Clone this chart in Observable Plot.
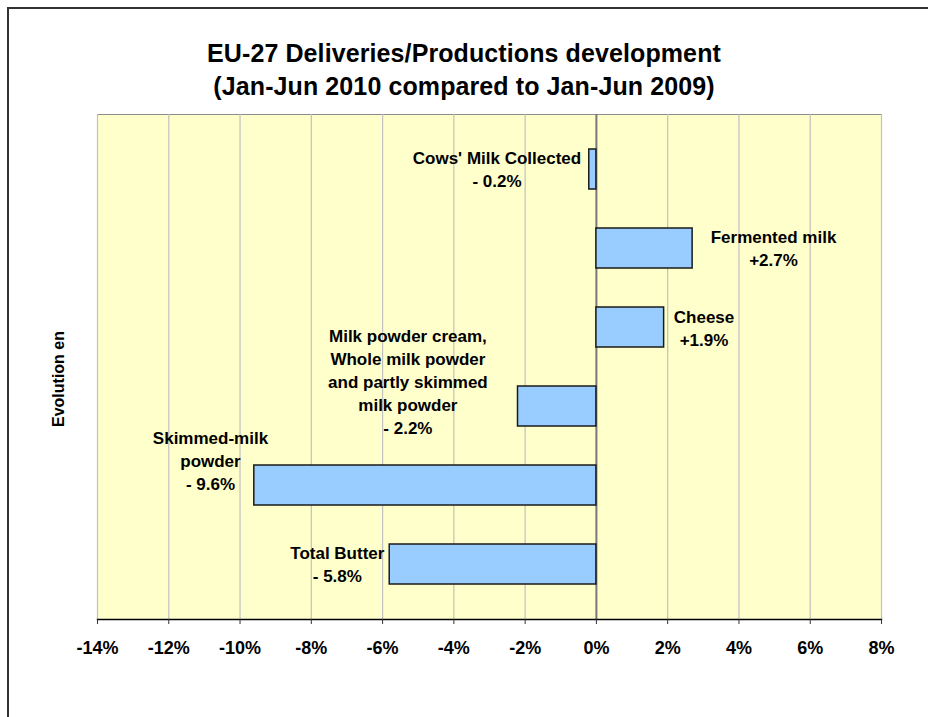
<!DOCTYPE html>
<html>
<head>
<meta charset="utf-8">
<script src="https://cdn.jsdelivr.net/npm/d3@7"></script>
<script src="https://cdn.jsdelivr.net/npm/@observablehq/plot@0.6"></script>
<style>
  html, body { margin: 0; padding: 0; background: #fff; overflow: hidden; }
  #wrap { position: relative; width: 928px; height: 717px; overflow: hidden; background: #fff; }
  #bt { position: absolute; left: 7px; top: 7px; width: 930px; height: 2px; background: #333; }
  #bl { position: absolute; left: 7px; top: 7px; width: 2px; height: 720px; background: #333; }
  #title { position: absolute; left: 0; top: 37px; width: 928px; text-align: center;
           font-family: "Liberation Sans", Arial, sans-serif; font-weight: bold; font-size: 25px;
           line-height: 33px; letter-spacing: 0.1px; color: #000; }
  #chart { position: absolute; left: 0; top: 0; }
  #chart svg { display: block; background: transparent !important; }
</style>
</head>
<body>
<div id="wrap">
  <div id="bt"></div>
  <div id="bl"></div>
  <div id="title">EU-27 Deliveries/Productions development<br>(Jan-Jun 2010 compared to Jan-Jun 2009)</div>
  <div id="chart"></div>
</div>
<script>
// ---- data ----
const categories = [
  "Cows' Milk Collected",
  "Fermented milk",
  "Cheese",
  "Milk powder cream, Whole milk powder and partly skimmed milk powder",
  "Skimmed-milk powder",
  "Total Butter"
];
const values = [-0.2, 2.7, 1.9, -2.2, -9.6, -5.8];
const labelNames = [
  ["Cows' Milk Collected"],
  ["Fermented milk"],
  ["Cheese"],
  ["Milk powder cream,", "Whole milk powder", "and partly skimmed", "milk powder"],
  ["Skimmed-milk", "powder"],
  ["Total Butter"]
];
const xTicks = [-14, -12, -10, -8, -6, -4, -2, 0, 2, 4, 6, 8];
const yAxisTitle = "Evolution en";

// ---- build ----
const fmt = v => (v < 0 ? "- " + Math.abs(v).toFixed(1) : "+" + v.toFixed(1)) + "%";
const rows = categories.map((c, i) => ({
  cat: c, value: values[i],
  label: [...labelNames[i], fmt(values[i])].join("\n")
}));

// label placement (annotation layout: x in data units, vertical shift in pixels)
const labelPlace = [
  {x: -2.79, dy: -1},
  {x: 4.97, dy: -1},
  {x: 3.02, dy: 0},
  {x: -5.29, dy: -26},
  {x: -10.83, dy: -26},
  {x: -7.27, dy: -1}
];

const font = "'Liberation Sans', Arial, sans-serif";

const labelMarks = rows.map((r, i) => Plot.text([r], {
  x: () => labelPlace[i].x,
  y: "cat",
  text: "label",
  dy: labelPlace[i].dy,
  textAnchor: "middle",
  lineAnchor: "middle",
  lineHeight: 1.36,
  fontSize: 17,
  fontWeight: "bold",
  fill: "#000",
  style: "letter-spacing:-0.25px"
}));

const chart = Plot.plot({
  width: 928,
  height: 717,
  marginLeft: 97,
  marginRight: 47,
  marginTop: 114,
  marginBottom: 98,
  style: { fontFamily: font, background: "transparent" },
  x: { domain: [-14, 8] },
  y: { domain: categories, paddingInner: 0.5, paddingOuter: 0.44, axis: null },
  marks: [
    Plot.frame({ fill: "#FFFFCC", stroke: "#8c8c8c" }),
    Plot.gridX(xTicks, { stroke: "#c0c0c0", strokeOpacity: 1, strokeWidth: 1.2 }),
    Plot.ruleX([0], { stroke: "#7a7a7a", strokeWidth: 2 }),
    Plot.barX(rows, { x: "value", y: "cat", fill: "#99CCFF", stroke: "#1a1a1a", strokeWidth: 1.5 }),
    ...labelMarks,
    Plot.frame({ anchor: "bottom", stroke: "#000", strokeWidth: 1.5 }),
    Plot.axisX({
      ticks: xTicks, tickFormat: d => d + "%", tickSize: 5, tickPadding: 17,
      fontSize: 18, fontWeight: "bold", stroke: "#333", fill: "#000", label: null,
      style: "letter-spacing:-0.6px"
    }),
    Plot.text([yAxisTitle], {
      frameAnchor: "left", text: d => d, rotate: -90, dx: -39, dy: 12,
      fontSize: 16, fontWeight: "bold", fill: "#000", textAnchor: "middle",
      style: "letter-spacing:-0.6px"
    })
  ]
});
document.getElementById("chart").appendChild(chart);
</script>
</body>
</html>
